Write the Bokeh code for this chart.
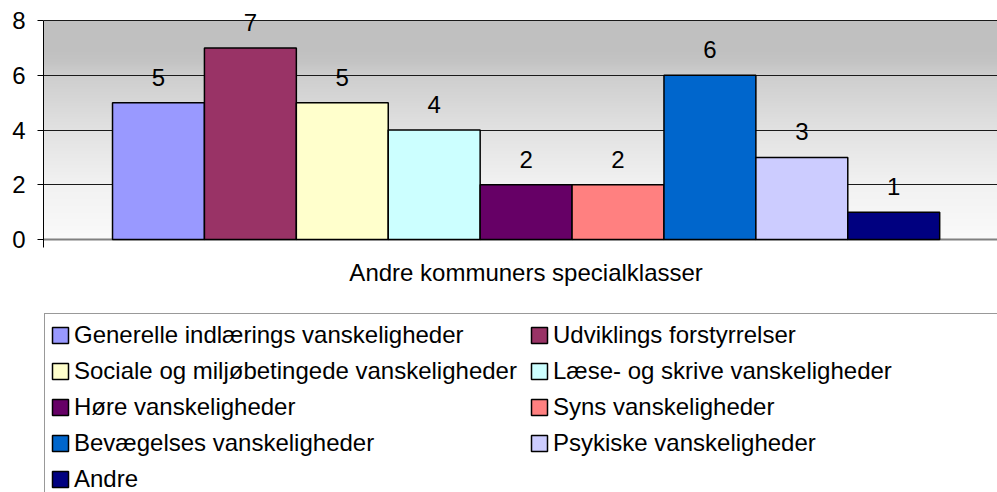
import numpy as np
from bokeh.plotting import figure
from bokeh.models import (Range1d, ColumnDataSource, Legend, LegendItem, LabelSet,
                          Label, Span, FixedTicker)
from bokeh.core.properties import value
from bokeh.embed import file_html
from bokeh.resources import INLINE

# ---- data ----
categories = [
    "Generelle indlærings vanskeligheder",
    "Udviklings forstyrrelser",
    "Sociale og miljøbetingede vanskeligheder",
    "Læse- og skrive vanskeligheder",
    "Høre vanskeligheder",
    "Syns vanskeligheder",
    "Bevægelses vanskeligheder",
    "Psykiske vanskeligheder",
    "Andre",
]
values = [5, 7, 5, 4, 2, 2, 6, 3, 1]
colors = ["#9999FF", "#993366", "#FFFFCC", "#CCFFFF", "#660066",
          "#FF8080", "#0066CC", "#CCCCFF", "#000080"]
group_label = "Andre kommuners specialklasser"
y_ticks = [0, 2, 4, 6, 8]

FONT = "Liberation Sans"

# ---- style constants ----
X_START, X_END = -1.251, 9.129
Y_START, Y_END = -9.242, 8.7306
AXIS_BOTTOM = -0.292
grad_stops_v = [0, 2, 4, 6, 6.5, 7, 8]
grad_stops_g = [250, 242, 226, 206, 196, 192, 192]

xs = list(range(len(categories)))
src = ColumnDataSource(dict(x=xs, top=values, cat=categories, color=colors,
                            lbl=[str(v) for v in values]))

p = figure(width=997, height=492, output_backend="svg", toolbar_location=None,
           x_range=Range1d(X_START, X_END), y_range=Range1d(Y_START, Y_END),
           x_axis_location=None, min_border_left=43, min_border_right=0,
           min_border_top=0, min_border_bottom=0)
p.outline_line_color = None
p.background_fill_color = "white"
p.border_fill_color = "white"
p.xgrid.visible = False

# gradient background of the plot area (0..8)
N = 256
top_v = y_ticks[-1]
vv = (np.arange(N) + 0.5) * (top_v / N)
gray = np.interp(vv, grad_stops_v, grad_stops_g).astype(np.uint8)
img = np.empty((N, 1), dtype=np.uint32)
view = img.view(dtype=np.uint8).reshape((N, 1, 4))
view[:, 0, 0] = gray
view[:, 0, 1] = gray
view[:, 0, 2] = gray
view[:, 0, 3] = 255
rimg = p.image_rgba(image=[img], x=X_START, y=0, dw=X_END - X_START, dh=top_v)
rimg.level = "image"

# grid lines
p.ygrid.ticker = FixedTicker(ticks=y_ticks[1:])
p.ygrid.grid_line_color = "#1a1a1a"
p.ygrid.grid_line_width = 1
p.add_layout(Span(location=0, dimension="width", line_color="#808080",
                  line_width=2, level="underlay"))

# bars
r = p.vbar(x="x", top="top", width=1.0, bottom=0, source=src,
           fill_color="color", line_color="black", line_width=1.5)

# data labels
labels = LabelSet(x="x", y="top", text="lbl", source=src, text_align="center",
                  text_baseline="alphabetic", y_offset=17,
                  text_font=value(FONT), text_font_size=value("24px"),
                  text_color=value("black"))
p.add_layout(labels)

# y axis
ax = p.yaxis[0]
ax.ticker = FixedTicker(ticks=y_ticks)
ax.bounds = (AXIS_BOTTOM, top_v)
ax.axis_line_color = "black"
ax.axis_line_width = 1
ax.major_tick_out = 6
ax.major_tick_in = 0
ax.major_tick_line_color = "black"
ax.minor_tick_line_color = None
ax.major_label_text_font = FONT
ax.major_label_text_font_size = "24px"
ax.major_label_text_color = "black"
ax.major_label_standoff = 12

# category title
p.add_layout(Label(x=(xs[0] + xs[-1]) / 2, y=220, x_units="data", y_units="screen",
                   text=group_label, text_align="center", text_baseline="alphabetic",
                   text_font=FONT, text_font_size="24px", text_color="black"))

# legend
items = [LegendItem(label=c, renderers=[r], index=i) for i, c in enumerate(categories)]
leg = Legend(items=items, location=(1, -9), orientation="horizontal", ncols=2,
             padding=5, spacing=4, margin=0,
             glyph_width=20, glyph_height=20, label_standoff=4,
             label_width=451, label_height=32,
             label_text_font=FONT, label_text_font_size="24px",
             label_text_color="black",
             border_line_color="#333333", border_line_width=1,
             background_fill_color="white", background_fill_alpha=1.0)
p.add_layout(leg)

open("out.html", "w").write(file_html(p, INLINE))
